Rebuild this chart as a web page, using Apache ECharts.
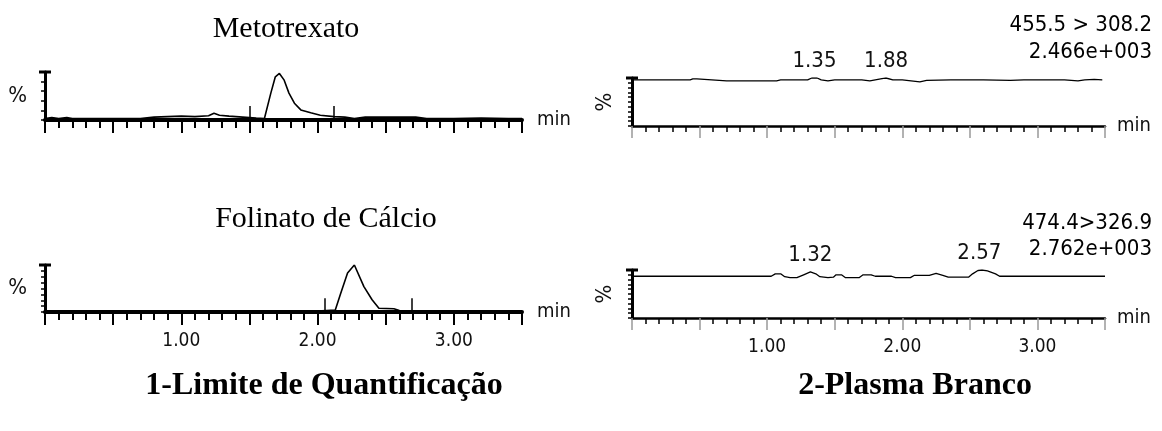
<!DOCTYPE html>
<html>
<head>
<meta charset="utf-8">
<script src="https://cdn.jsdelivr.net/npm/echarts@6/dist/echarts.min.js"></script>
<style>
  html, body { margin: 0; padding: 0; background: #fff; }
  #chart { width: 1162px; height: 431px; }
</style>
</head>
<body>
<div id="chart"></div>
<script>
// Metotrexato, LOQ sample (time in min, intensity in %)
const metoTime = [0.00, 0.05, 0.10, 0.16, 0.20, 0.30, 0.50, 0.70, 0.80, 0.90, 1.00, 1.10, 1.20, 1.24, 1.28, 1.35, 1.45, 1.55, 1.61, 1.62, 1.657, 1.69, 1.72, 1.755, 1.79, 1.83, 1.877, 1.95, 2.02, 2.12, 2.20, 2.27, 2.35, 2.50, 2.72, 2.80, 3.00, 3.20, 3.40, 3.50];
const metoPct  = [3, 5, 3, 5, 3, 3, 3, 3, 6, 7, 8, 7, 9, 14, 10, 8, 6, 4, 3, 7, 56, 90, 97, 83, 56, 35, 21, 15, 10, 7, 6, 3, 6, 6, 6, 3, 3, 4, 3, 3];
const metoMarkers = [1.505, 2.12];

// Folinato de Calcio, LOQ sample
const folTime = [0.00, 1.00, 2.00, 2.13, 2.17, 2.22, 2.27, 2.34, 2.40, 2.45, 2.56, 2.60, 3.00, 3.50];
const folPct  = [2, 2, 2, 4, 40, 83, 100, 54, 26, 8, 7, 3, 2, 2];
const folMarkers = [2.05, 2.69];

// blank plasma, channel 455.5 > 308.2
const blankMetoTime = [0.00, 0.30, 0.43, 0.45, 0.48, 0.49, 0.70, 1.07, 1.10, 1.30, 1.33, 1.37, 1.40, 1.45, 1.50, 1.70, 1.76, 1.80, 1.86, 1.88, 1.93, 2.00, 2.13, 2.18, 2.36, 2.60, 2.80, 2.90, 3.20, 3.30, 3.35, 3.42, 3.48];
const blankMetoPct  = [96, 96, 96, 98, 98, 94, 94, 94, 96, 96, 100, 100, 96, 94, 96, 96, 94, 96, 99, 100, 96, 96, 92, 95, 96, 96, 95, 96, 96, 94, 96, 97, 96];
const blankMetoPeaks = [1.35, 1.88];

// blank plasma, channel 474.4 > 326.9
const blankFolTime = [0.00, 1.00, 1.03, 1.06, 1.10, 1.13, 1.17, 1.22, 1.27, 1.32, 1.36, 1.39, 1.45, 1.49, 1.51, 1.55, 1.58, 1.68, 1.71, 1.77, 1.80, 1.92, 1.95, 2.06, 2.09, 2.20, 2.25, 2.30, 2.34, 2.49, 2.52, 2.56, 2.59, 2.63, 2.69, 2.72, 3.00, 3.50];
const blankFolPct  = [87, 87, 87, 92, 92, 86, 84, 84, 90, 96, 92, 86, 84, 85, 90, 90, 84, 84, 90, 90, 87, 87, 84, 84, 89, 89, 93, 89, 85, 85, 92, 99, 100, 98, 92, 87, 87, 87];
const blankFolPeaks = [1.32, 2.57];

const xTickLabels = [1, 2, 3];

const narrow = "'Liberation Sans Narrow', 'Arial Narrow', 'DejaVu Sans Condensed', sans-serif";
const serif = "'Liberation Serif', 'Times New Roman', serif";

const zip = (xs, ys) => xs.map((x, i) => [x, ys[i]]);

const chart = echarts.init(document.getElementById('chart'), null, { renderer: 'canvas' });

const grids = [
  { left: 45, top: 72, width: 477, height: 48 },
  { left: 45, top: 265, width: 477, height: 47 },
  { left: 632, top: 78, width: 473, height: 48 },
  { left: 632, top: 270, width: 473, height: 48 }
];

const makeX = (gridIndex, bold, showLabels) => ({
  gridIndex,
  type: 'value',
  min: 0,
  max: 3.5,
  interval: 0.5,
  name: 'min',
  nameLocation: 'end',
  nameGap: bold ? 15 : 12,
  nameTextStyle: { fontFamily: narrow, fontSize: 20, color: '#111' },
  axisLine: { show: true, lineStyle: { color: '#000', width: bold ? 4 : 2.5 } },
  axisTick: { show: true, length: bold ? 13 : 12, lineStyle: { color: bold ? '#000' : '#999', width: bold ? 2 : 1.5 } },
  minorTick: { show: true, splitNumber: 5, length: bold ? 8 : 6, lineStyle: { color: '#000', width: bold ? 2 : 1.5 } },
  splitLine: { show: false },
  axisLabel: {
    show: showLabels,
    margin: 20,
    fontFamily: narrow,
    fontSize: 19,
    color: '#111',
    formatter: v => (xTickLabels.indexOf(v) >= 0 ? v.toFixed(2) : '')
  }
});

const makeY = (gridIndex, interval, rotate) => ({
  gridIndex,
  type: 'value',
  min: 0,
  max: 100,
  interval,
  name: '%',
  nameLocation: 'middle',
  nameRotate: rotate,
  nameGap: rotate ? 16 : 18,
  nameTextStyle: { fontFamily: narrow, fontSize: 22, color: '#111' },
  axisLine: { show: true, symbol: ['none', 'rect'], symbolSize: [12, 3], lineStyle: { color: '#000', width: 3 } },
  axisTick: { show: true, length: 4, lineStyle: { color: '#000', width: 1.5 } },
  splitLine: { show: false },
  axisLabel: { show: false }
});

const markerLines = (times) => ({
  symbol: 'none',
  silent: true,
  animation: false,
  label: { show: false },
  lineStyle: { color: '#000', width: 1.5, type: 'solid' },
  data: times.map(t => [{ coord: [t, 0] }, { coord: [t, 29] }])
});

const peakLabels = (times, xs, ys) => ({
  symbol: 'circle',
  symbolSize: 0,
  silent: true,
  label: {
    show: true,
    position: 'top',
    distance: 6,
    fontFamily: narrow,
    fontSize: 22,
    color: '#111',
    formatter: p => p.name
  },
  data: times.map(t => {
    const i = xs.indexOf(t) >= 0 ? xs.indexOf(t) : xs.findIndex(x => x >= t);
    return { name: t.toFixed(2), coord: [t, Math.max(ys[i], ys[i - 1] || 0)] };
  })
});

const lineSeries = (idx, xs, ys, width, extra) => Object.assign({
  type: 'line',
  xAxisIndex: idx,
  yAxisIndex: idx,
  data: zip(xs, ys),
  showSymbol: false,
  symbol: 'none',
  lineStyle: { color: '#000', width },
  animation: false
}, extra);

const textEl = (x, y, text, font, align) => ({
  type: 'text',
  x, y,
  style: { text, font, fill: '#000', textAlign: align, textVerticalAlign: 'top' }
});

chart.setOption({
  animation: false,
  grid: grids,
  xAxis: [makeX(0, true, false), makeX(1, true, true), makeX(2, false, false), makeX(3, false, true)],
  yAxis: [makeY(0, 20, 0), makeY(1, 12.5, 0), makeY(2, 10, 90), makeY(3, 10, 90)],
  series: [
    lineSeries(0, metoTime, metoPct, 1.6, { markLine: markerLines(metoMarkers) }),
    lineSeries(1, folTime, folPct, 1.6, { markLine: markerLines(folMarkers) }),
    lineSeries(2, blankMetoTime, blankMetoPct, 1.3, { markPoint: peakLabels(blankMetoPeaks, blankMetoTime, blankMetoPct) }),
    lineSeries(3, blankFolTime, blankFolPct, 1.3, { markPoint: peakLabels(blankFolPeaks, blankFolTime, blankFolPct) })
  ],
  graphic: [
    textEl(286, 14, 'Metotrexato', "30px " + serif, 'center'),
    textEl(326, 204, 'Folinato de Cálcio', "30px " + serif, 'center'),
    textEl(1152, 14, '455.5 > 308.2', "22px " + narrow, 'right'),
    textEl(1152, 41, '2.466e+003', "22px " + narrow, 'right'),
    textEl(1152, 212, '474.4>326.9', "22px " + narrow, 'right'),
    textEl(1152, 238, '2.762e+003', "22px " + narrow, 'right'),
    textEl(324, 370, '1-Limite de Quantificação', "bold 32px " + serif, 'center'),
    textEl(915, 370, '2-Plasma Branco', "bold 32px " + serif, 'center')
  ]
});
</script>
</body>
</html>
